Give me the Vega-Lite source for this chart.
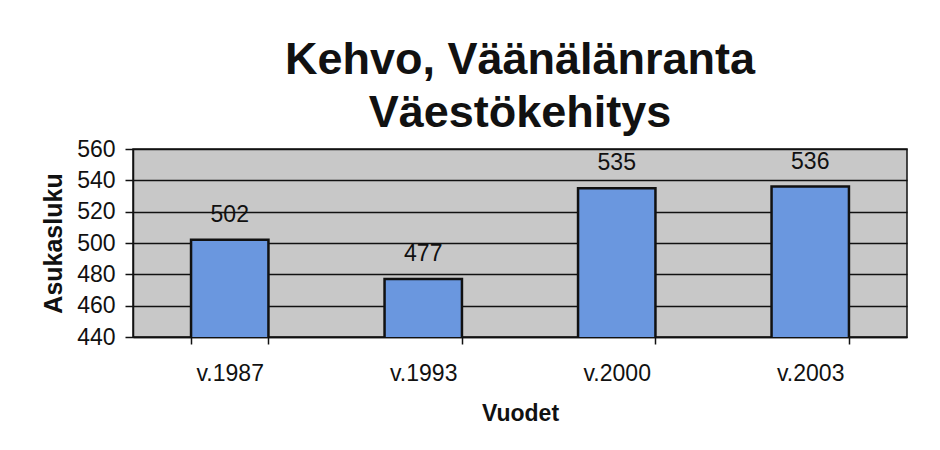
{
  "$schema": "https://vega.github.io/schema/vega-lite/v6.json",
  "autosize": {"type": "none"},
  "width": 774,
  "height": 188,
  "padding": {"left": 133, "top": 149, "right": 33, "bottom": 113},
  "background": "white",
  "title": {
    "text": ["Kehvo, Väänälänranta", "Väestökehitys"],
    "font": "Liberation Sans",
    "fontSize": 45,
    "fontWeight": "bold",
    "color": "#111111",
    "lineHeight": 53,
    "anchor": "middle",
    "offset": 2
  },
  "data": {
    "values": [
      {"vuosi": "v.1987", "asukkaat": 502},
      {"vuosi": "v.1993", "asukkaat": 477},
      {"vuosi": "v.2000", "asukkaat": 535},
      {"vuosi": "v.2003", "asukkaat": 536}
    ]
  },
  "encoding": {
    "x": {
      "field": "vuosi",
      "type": "nominal",
      "sort": null,
      "scale": {"paddingInner": 0.6, "paddingOuter": 0.3},
      "axis": {
        "title": "Vuodet",
        "labelAngle": 0,
        "bandPosition": 0,
        "tickBand": "extent",
        "ticks": true,
        "tickSize": 7,
        "tickColor": "#111111",
        "tickWidth": 1.5,
        "domainColor": "#111111",
        "domainWidth": 1.5,
        "labelFont": "Liberation Sans",
        "labelFontSize": 23,
        "labelColor": "#111111",
        "labelPadding": 18,
        "titleFont": "Liberation Sans",
        "titleFontSize": 23,
        "titleFontWeight": "bold",
        "titleColor": "#111111",
        "titlePadding": 17
      }
    },
    "y": {
      "field": "asukkaat",
      "type": "quantitative",
      "scale": {"domain": [440, 560], "zero": false, "nice": false},
      "axis": {
        "title": "Asukasluku",
        "values": [440, 460, 480, 500, 520, 540, 560],
        "grid": true,
        "gridColor": "#111111",
        "gridWidth": 1.5,
        "gridOpacity": 1,
        "tickSize": 8,
        "tickColor": "#111111",
        "tickWidth": 1.5,
        "domainColor": "#111111",
        "domainWidth": 1.5,
        "labelFont": "Liberation Sans",
        "labelFontSize": 23,
        "labelColor": "#111111",
        "labelPadding": 10,
        "titleFont": "Liberation Sans",
        "titleFontSize": 25,
        "titleFontWeight": "bold",
        "titleColor": "#111111",
        "titlePadding": 10
      }
    }
  },
  "layer": [
    {
      "mark": {"type": "bar", "color": "#6a97df", "stroke": "#111111", "strokeWidth": 2.5, "clip": true}
    },
    {
      "mark": {"type": "text", "font": "Liberation Sans", "fontSize": 23, "color": "#111111", "baseline": "alphabetic", "dy": -18},
      "encoding": {"text": {"field": "asukkaat", "type": "quantitative"}}
    }
  ],
  "config": {
    "view": {"fill": "#c8c8c8", "stroke": "#111111", "strokeWidth": 1.5}
  }
}
